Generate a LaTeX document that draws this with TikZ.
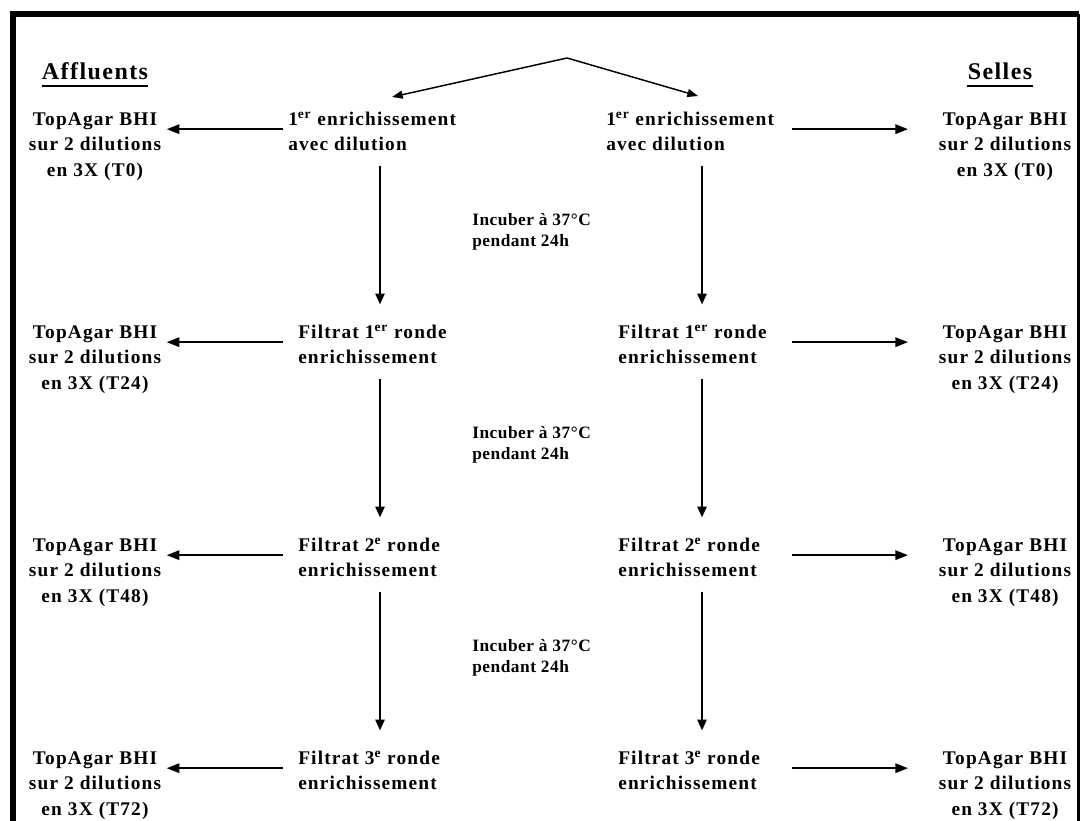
\documentclass[tikz,border=0pt]{standalone}
\usepackage{fontspec}
\setmainfont{Liberation Serif}[LetterSpace=6]
\newfontfamily\incfont{Liberation Serif}[LetterSpace=3]
\usetikzlibrary{arrows.meta}
\begin{document}
\begin{tikzpicture}[x=0.75pt,y=-0.75pt,
  side/.style={align=center, inner sep=0pt, anchor=base, font=\fontsize{14.5}{19.1}\selectfont\bfseries},
  mid/.style={align=left, inner sep=0pt, anchor=base west, font=\fontsize{14.5}{19.1}\selectfont\bfseries},
  inc/.style={align=left, inner sep=0pt, anchor=base west, font=\incfont\fontsize{13}{15.5}\selectfont\bfseries},
  hdr/.style={inner sep=0pt, anchor=base, font=\fontsize{18}{22}\selectfont\bfseries},
  uline/.style={line width=2pt},
  harr/.style={line width=1.6pt, -{Triangle[length=9.5pt,width=7pt]}},
  varr/.style={line width=1.1pt, -{Triangle[length=8pt,width=7pt]}},
  tarr/.style={line width=1.1pt, -{Triangle[length=8pt,width=6pt]}},
]
\useasboundingbox (0,0) rectangle (1080,820);
\clip (0,0) rectangle (1080,820);
% frame
\draw[line width=4.5pt, line join=miter] (13.3,840) -- (13.3,14.5) -- (1078.5,14.5);
\draw[line width=2.5pt] (1078.5,14.5) -- (1078.5,840);

% headers
\node[hdr] (hA) at (95,80) {Affluents};
\node[hdr] (hS) at (1000,80) {Selles};
\draw[uline] ([yshift=-4.5pt]hA.base west) -- ([yshift=-4.5pt]hA.base east);
\draw[uline] ([yshift=-4.5pt]hS.base west) -- ([yshift=-4.5pt]hS.base east);

% left side nodes (base = last line)
\node[side] (l1) at (95,176) {TopAgar BHI\\sur 2 dilutions\\en 3X (T0)};
\node[side] (l2) at (95,389) {TopAgar BHI\\sur 2 dilutions\\en 3X (T24)};
\node[side] (l3) at (95,602) {TopAgar BHI\\sur 2 dilutions\\en 3X (T48)};
\node[side] (l4) at (95,815) {TopAgar BHI\\sur 2 dilutions\\en 3X (T72)};
% right side nodes
\node[side] (r1) at (1005,176) {TopAgar BHI\\sur 2 dilutions\\en 3X (T0)};
\node[side] (r2) at (1005,389) {TopAgar BHI\\sur 2 dilutions\\en 3X (T24)};
\node[side] (r3) at (1005,602) {TopAgar BHI\\sur 2 dilutions\\en 3X (T48)};
\node[side] (r4) at (1005,815) {TopAgar BHI\\sur 2 dilutions\\en 3X (T72)};

% middle left
\node[mid] (a1) at (288,150.5) {1\textsuperscript{er} enrichissement\\avec dilution};
\node[mid] (a2) at (298,363.5) {Filtrat 1\textsuperscript{er} ronde\\enrichissement};
\node[mid] (a3) at (298,576.5) {Filtrat 2\textsuperscript{e} ronde\\enrichissement};
\node[mid] (a4) at (298,789.5) {Filtrat 3\textsuperscript{e} ronde\\enrichissement};
% middle right
\node[mid] (b1) at (606,150.5) {1\textsuperscript{er} enrichissement\\avec dilution};
\node[mid] (b2) at (618,363.5) {Filtrat 1\textsuperscript{er} ronde\\enrichissement};
\node[mid] (b3) at (618,576.5) {Filtrat 2\textsuperscript{e} ronde\\enrichissement};
\node[mid] (b4) at (618,789.5) {Filtrat 3\textsuperscript{e} ronde\\enrichissement};

% incubation labels
\node[inc] (i1) at (472,246) {Incuber à 37°C\\pendant 24h};
\node[inc] (i2) at (472,459) {Incuber à 37°C\\pendant 24h};
\node[inc] (i3) at (472,672) {Incuber à 37°C\\pendant 24h};

% top split
\coordinate (apex) at (567,58);
\coordinate (tL) at (392,97);
\coordinate (tR) at (698,96);
\draw[tarr] (apex) -- (tL);
\draw[tarr] (apex) -- (tR);

% horizontal arrows
\coordinate (sL) at (283,0);
\coordinate (sR) at (792,0);
\foreach \i in {1,2,3,4}{
  \coordinate (pa\i) at ([yshift=16pt]a\i.base west);
  \draw[harr, shorten >=4pt] (pa\i -| sL) -- (pa\i -| l\i.east);
  \coordinate (pb\i) at ([yshift=16pt]b\i.base west);
  \draw[harr, shorten >=23pt] (pb\i -| sR) -- (pb\i -| r\i.west);
}

% vertical arrows
\coordinate (cL) at (380,0);
\coordinate (cR) at (702,0);
\foreach \i/\j in {1/2,2/3,3/4}{
  \draw[varr] ([yshift=-11pt]a\i.south -| cL) -- ([yshift=15pt]a\j.north -| cL);
  \draw[varr] ([yshift=-11pt]b\i.south -| cR) -- ([yshift=15pt]b\j.north -| cR);
}
\end{tikzpicture}
\end{document}
